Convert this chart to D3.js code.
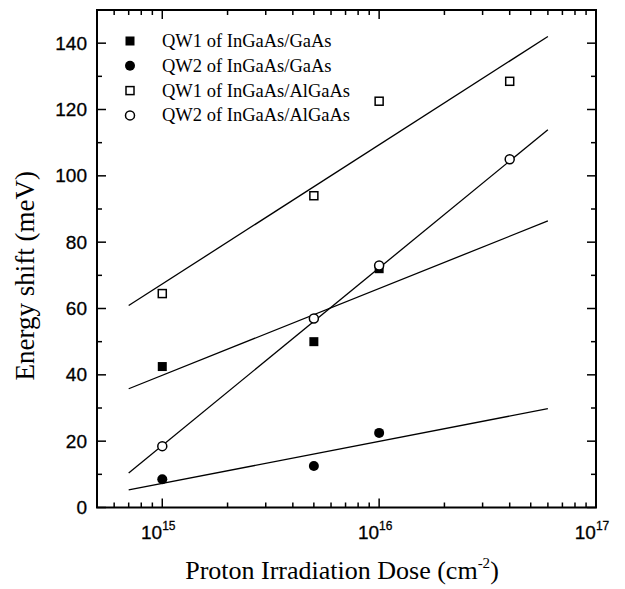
<!DOCTYPE html>
<html>
<head>
<meta charset="utf-8">
<script src="https://cdn.jsdelivr.net/npm/d3@7"></script>
<style>
  body { margin: 0; background: #fff; }
  svg { display: block; }
</style>
</head>
<body>
<svg width="625" height="589"></svg>
<script>
// dosis (cm^-2) de cada serie
const dosisGaAs = [1e15, 5e15, 1e16];
const dosisAlGaAs = [1e15, 5e15, 1e16, 4e16];

// corrimiento de energia (meV)
const qw1GaAs = [42.5, 50, 72];
const qw2GaAs = [8.5, 12.5, 22.5];
const qw1AlGaAs = [64.5, 94, 122.5, 128.5];
const qw2AlGaAs = [18.5, 57, 73, 105];

const nombresSeries = ["QW1 of InGaAs/GaAs", "QW2 of InGaAs/GaAs", "QW1 of InGaAs/AlGaAs", "QW2 of InGaAs/AlGaAs"];

// rectas de ajuste: valores en los extremos 7e14 y 6e16
const ajusteDosis = [7e14, 6e16];
const ajusteQw1GaAs = [35.8, 86.4];
const ajusteQw2GaAs = [5.3, 29.8];
const ajusteQw1AlGaAs = [60.9, 142.0];
const ajusteQw2AlGaAs = [10.4, 113.9];

const yTicks = [0, 20, 40, 60, 80, 100, 120, 140];
const xExponentes = [15, 16, 17];

const svg = d3.select("svg");
const margen = { left: 97, top: 10, right: 596, bottom: 507.5 };

const x = d3.scaleLog().domain([5e14, 1e17]).range([margen.left, margen.right]);
const y = d3.scaleLinear().domain([0, 150]).range([margen.bottom, margen.top]);

// ticks menores del eje log
const ticksMenores = [];
[1e14, 1e15, 1e16].forEach(dec => {
  for (let k = 2; k <= 9; k++) {
    const v = dec * k;
    if (v > 5e14 && v < 1e17) ticksMenores.push(v);
  }
});
const ticksMayores = [1e15, 1e16];

const g = svg.append("g");

// ticks hacia adentro, abajo y arriba
function dibujarTicksX(yBase, dir) {
  ticksMayores.forEach(v => {
    g.append("line").attr("x1", x(v)).attr("x2", x(v))
      .attr("y1", yBase).attr("y2", yBase + dir * 9)
      .attr("stroke", "#000").attr("stroke-width", 1.5);
  });
  ticksMenores.forEach(v => {
    g.append("line").attr("x1", x(v)).attr("x2", x(v))
      .attr("y1", yBase).attr("y2", yBase + dir * 5)
      .attr("stroke", "#000").attr("stroke-width", 1.5);
  });
}
dibujarTicksX(margen.bottom, -1);
dibujarTicksX(margen.top, 1);

function dibujarTicksY(xBase, dir) {
  d3.range(0, 151, 10).forEach(v => {
    const largo = v % 20 === 0 ? 9 : 5;
    g.append("line").attr("x1", xBase).attr("x2", xBase + dir * largo)
      .attr("y1", y(v)).attr("y2", y(v))
      .attr("stroke", "#000").attr("stroke-width", 1.5);
  });
}
dibujarTicksY(margen.left, 1);
dibujarTicksY(margen.right, -1);

// marco
g.append("rect")
  .attr("x", margen.left).attr("y", margen.top)
  .attr("width", margen.right - margen.left)
  .attr("height", margen.bottom - margen.top)
  .attr("fill", "none").attr("stroke", "#000").attr("stroke-width", 2);

// etiquetas eje y
yTicks.forEach(v => {
  g.append("text")
    .attr("x", 87).attr("y", y(v) + 6.5)
    .attr("text-anchor", "end")
    .attr("font-family", "Liberation Sans, Arial, sans-serif")
    .attr("font-size", 19)
    .attr("stroke", "#000").attr("stroke-width", 0.3)
    .text(v);
});

// etiquetas eje x (10^n)
xExponentes.forEach(e => {
  const t = g.append("text")
    .attr("x", x(Math.pow(10, e)) - 4).attr("y", 539)
    .attr("text-anchor", "middle")
    .attr("font-family", "Liberation Sans, Arial, sans-serif")
    .attr("font-size", 19)
    .attr("stroke", "#000").attr("stroke-width", 0.3);
  t.append("tspan").text("10");
  t.append("tspan").attr("dy", -9).attr("font-size", 12).text(e);
});

// titulos de ejes
g.append("text")
  .attr("transform", "translate(34," + ((margen.top + margen.bottom) / 2 + 17) + ") rotate(-90)")
  .attr("text-anchor", "middle")
  .attr("font-family", "Liberation Serif, Times New Roman, serif")
  .attr("font-size", 27)
  .text("Energy shift (meV)");

const tituloX = g.append("text")
  .attr("x", 342).attr("y", 579)
  .attr("text-anchor", "middle")
  .attr("font-family", "Liberation Serif, Times New Roman, serif")
  .attr("font-size", 26);
tituloX.append("tspan").text("Proton Irradiation Dose (cm");
tituloX.append("tspan").attr("dy", -11).attr("font-size", 15).text("-2");
tituloX.append("tspan").attr("dy", 11).text(")");

// rectas de ajuste
const linea = d3.line().x(d => x(d[0])).y(d => y(d[1]));
[ajusteQw1AlGaAs, ajusteQw1GaAs, ajusteQw2AlGaAs, ajusteQw2GaAs].forEach(vals => {
  g.append("path")
    .attr("d", linea(ajusteDosis.map((d, i) => [d, vals[i]])))
    .attr("fill", "none").attr("stroke", "#000").attr("stroke-width", 1.3);
});

// marcadores
function marcador(sel, tipo, cx, cy) {
  if (tipo === "cuadrado" || tipo === "cuadradoVacio") {
    const s = tipo === "cuadrado" ? 9 : 8;
    sel.append("rect")
      .attr("x", cx - s / 2).attr("y", cy - s / 2)
      .attr("width", s).attr("height", s)
      .attr("fill", tipo === "cuadrado" ? "#000" : "#fff")
      .attr("stroke", "#000").attr("stroke-width", tipo === "cuadrado" ? 0 : 1.5);
  } else {
    sel.append("circle")
      .attr("cx", cx).attr("cy", cy)
      .attr("r", tipo === "circulo" ? 5 : 4.5)
      .attr("fill", tipo === "circulo" ? "#000" : "#fff")
      .attr("stroke", "#000").attr("stroke-width", tipo === "circulo" ? 0 : 1.5);
  }
}

const series = [
  { tipo: "cuadrado", dosis: dosisGaAs, valores: qw1GaAs },
  { tipo: "circulo", dosis: dosisGaAs, valores: qw2GaAs },
  { tipo: "cuadradoVacio", dosis: dosisAlGaAs, valores: qw1AlGaAs },
  { tipo: "circuloVacio", dosis: dosisAlGaAs, valores: qw2AlGaAs }
];

series.forEach(s => {
  s.dosis.forEach((d, i) => marcador(g, s.tipo, x(d), y(s.valores[i])));
});

// leyenda
series.forEach((s, i) => {
  const ly = 41 + i * 24.8;
  marcador(g, s.tipo, 130, ly);
  g.append("text")
    .attr("x", 162).attr("y", ly + 6)
    .attr("font-family", "Liberation Serif, Times New Roman, serif")
    .attr("font-size", 18.5)
    .text(nombresSeries[i]);
});
</script>
</body>
</html>
